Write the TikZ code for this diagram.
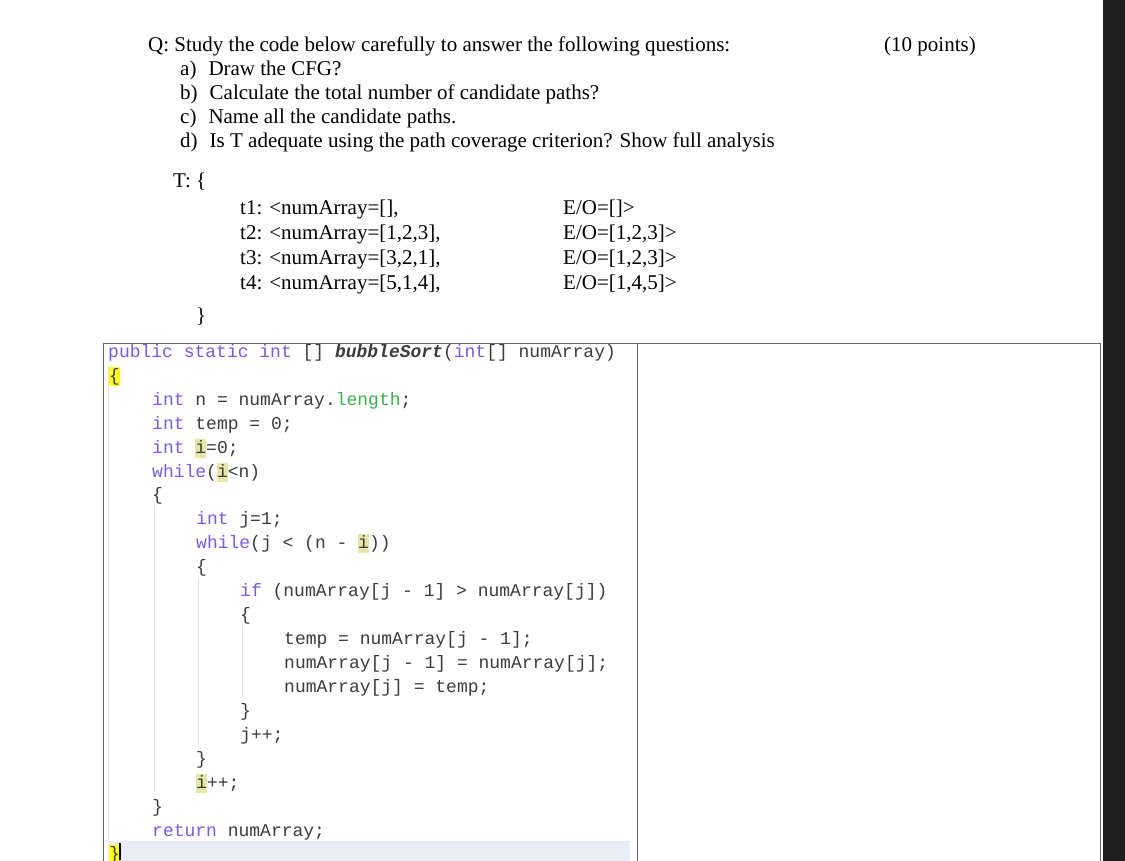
\documentclass[tikz,border=0pt]{standalone}
\usepackage{fontspec}
\setmainfont{Liberation Serif}
\setmonofont{Liberation Mono}
\definecolor{kw}{HTML}{7B5BE0}
\definecolor{codegray}{HTML}{3C3C3C}
\definecolor{grn}{HTML}{3CB04A}
\definecolor{hl}{HTML}{E6E6A8}
\definecolor{yl}{HTML}{FFFF1A}
\definecolor{lb}{HTML}{E8EEF7}
\newcommand{\hlc}[2]{{\setlength\fboxsep{0pt}\colorbox{#1}{\rule[-4.5pt]{0pt}{19pt}#2}}}
\begin{document}
\begin{tikzpicture}[x=1pt,y=-1pt,
  tx/.style={anchor=base west,inner sep=0pt,font=\fontsize{21}{24}\selectfont},
  cd/.style={anchor=base west,inner sep=0pt,font=\ttfamily\fontsize{18}{20}\selectfont,text=codegray},
  ]
\useasboundingbox (0,0) rectangle (1125,861);
\fill[white] (0,0) rectangle (1103,861);
\fill[black!88] (1103,0) rectangle (1125,861);
% question
\node[tx] (q) at (148,52) {Q: Study the code below carefully to answer the following questions:};
\node[tx] (pts) at (884,52) {(10 points)};
\node[tx] (qa) at (180,76) {a)\hspace{12pt}Draw the CFG?};
\node[tx] (qb) at (180,100) {b)\hspace{12pt}Calculate the total number of candidate paths?};
\node[tx] (qc) at (180,124) {c)\hspace{12pt}Name all the candidate paths.};
\node[tx] (qd) at (180,148) {d)\hspace{12pt}Is T adequate using the path coverage criterion? Show full analysis};
\node[tx] (T) at (173,188) {T: \{};
\node[tx] (t1) at (240,215) {t1: <numArray=[],};
\node[tx] (t2) at (240,240) {t2: <numArray=[1,2,3],};
\node[tx] (t3) at (240,265) {t3: <numArray=[3,2,1],};
\node[tx] (t4) at (240,290) {t4: <numArray=[5,1,4],};
\node[tx] (e1) at (563,215) {E/O=[]>};
\node[tx] (e2) at (563,240) {E/O=[1,2,3]>};
\node[tx] (e3) at (563,265) {E/O=[1,2,3]>};
\node[tx] (e4) at (563,290) {E/O=[1,4,5]>};
\node[tx] (Tc) at (196,322) {\}};
% table
\fill[lb] (108,841) rectangle (630,861);
\draw[black!60] (103,861) -- (103,343) -- (1100,343) -- (1100,861);
\draw[black!60] (637,343) -- (637,861);
% indentation guides
\draw[black!12] (108,366) -- (108,840);
\draw[black!12] (154,505) -- (154,792);
\draw[black!12] (198,577) -- (198,745);
\draw[black!12] (242,625) -- (242,697);
% code
\node[cd] (c0) at (108,357) {\textcolor{kw}{public static int} [] \textbf{\textit{bubbleSort}}(\textcolor{kw}{int}[] numArray)};
\node[cd] (c1) at (109,381) {\hlc{yl}{\{}};
\node[cd] (c2) at (152,405) {\textcolor{kw}{int} n = numArray.\textcolor{grn}{length};};
\node[cd] (c3) at (152,429) {\textcolor{kw}{int} temp = 0;};
\node[cd] (c4) at (152,453) {\textcolor{kw}{int} \hlc{hl}{i}=0;};
\node[cd] (c5) at (152,477) {\textcolor{kw}{while}(\hlc{hl}{i}<n)};
\node[cd] (c6) at (152,500) {\{};
\node[cd] (c7) at (196,524) {\textcolor{kw}{int} j=1;};
\node[cd] (c8) at (196,548) {\textcolor{kw}{while}(j < (n - \hlc{hl}{i}))};
\node[cd] (c9) at (196,572) {\{};
\node[cd] (c10) at (240,596) {\textcolor{kw}{if} (numArray[j - 1] > numArray[j])};
\node[cd] (c11) at (240,620) {\{};
\node[cd] (c12) at (284,644) {temp = numArray[j - 1];};
\node[cd] (c13) at (284,668) {numArray[j - 1] = numArray[j];};
\node[cd] (c14) at (284,692) {numArray[j] = temp;};
\node[cd] (c15) at (240,716) {\}};
\node[cd] (c16) at (240,740) {j++;};
\node[cd] (c17) at (196,764) {\}};
\node[cd] (c18) at (196,788) {\hlc{hl}{i}++;};
\node[cd] (c19) at (152,812) {\}};
\node[cd] (c20) at (152,836) {\textcolor{kw}{return} numArray;};
\node[cd] (c21) at (109,859) {\hlc{yl}{\}}};
\draw[black, line width=1.2pt] (120,843) -- (120,860);
\end{tikzpicture}
\end{document}
